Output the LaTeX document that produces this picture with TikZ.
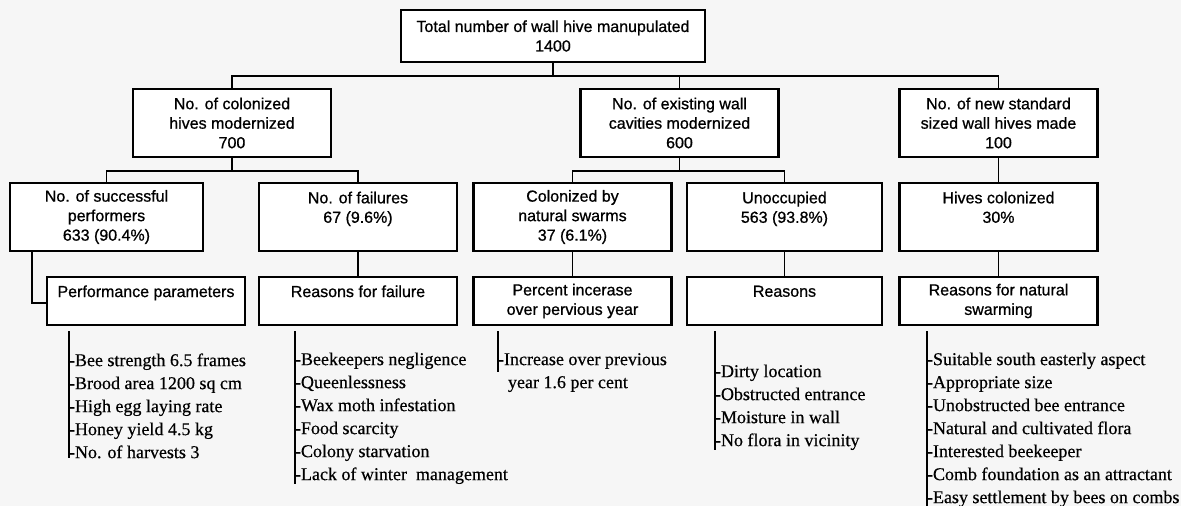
\documentclass[tikz,border=0pt]{standalone}
\usepackage{fontspec}
\setmainfont{Liberation Serif}
\setsansfont{Liberation Sans}
\newfontface\boxfont[FakeBold=0.8]{Liberation Sans}
\newfontface\listfont[FakeBold=0.5]{Liberation Serif}
\usetikzlibrary{positioning}

\begin{document}
\begin{tikzpicture}[
  x=1pt, y=-1pt,
  every node/.style={inner sep=0pt, outer sep=0pt},
  box/.style={
    draw,
    line width=2.6pt,
    fill=white,
    align=center,
    minimum width=198pt,
    minimum height=68pt,
    font=\boxfont\fontsize{16}{19.5}\selectfont
  },
  topbox/.style={box, minimum width=304pt, minimum height=52pt},
  lowbox/.style={box, minimum height=48pt},
  link/.style={line width=1.4pt},
  itemlist/.style={anchor=north west, align=left, font=\listfont\fontsize{18}{23}\selectfont}
]

\useasboundingbox (0,0) rectangle (1181,506);
\fill[gray!7] (0,0) rectangle (1181,506);

\node[topbox] (total) at (553,36) {Total number of wall hive manupulated\\1400};

\node[box] (colon) at (232,123) {No. of colonized\\hives modernized\\700};
\node[box] (exist) at (679.5,123) {No. of existing wall\\cavities modernized\\600};
\node[box] (newhive) at (998.5,123) {No. of new standard\\sized wall hives made\\100};

\node[box, minimum width=193pt] (success) at (106.5,217) {No. of successful\\performers\\633 (90.4\%)};
\node[box] (failure) at (358,217) {No. of failures\\67 (9.6\%)\\\mbox{}};
\node[box] (swarmed) at (572.5,217) {Colonized by\\natural swarms\\37 (6.1\%)};
\node[box, minimum width=195pt] (empty) at (784.5,217) {Unoccupied\\563 (93.8\%)\\\mbox{}};
\node[box] (colonised) at (998.5,217) {Hives colonized\\30\%\\\mbox{}};

\node[lowbox] (perf) at (146,301) {Performance parameters\\\mbox{}};
\node[lowbox] (whyfail) at (358,301) {Reasons for failure\\\mbox{}};
\node[lowbox] (increase) at (572.5,301) {Percent incerase\\over pervious year};
\node[lowbox, minimum width=195pt] (reasons) at (784.5,301) {Reasons\\\mbox{}};
\node[lowbox] (natural) at (998.5,301) {Reasons for natural\\swarming};

\node[itemlist] (perflist) at (69,350) {\strut-Bee strength 6.5 frames\\-Brood area 1200 sq cm\\-High egg laying rate\\-Honey yield 4.5 kg\\-No. of harvests 3};
\node[itemlist] (faillist) at (295,349) {\strut-Beekeepers negligence\\-Queenlessness\\-Wax moth infestation\\-Food scarcity\\-Colony starvation\\-Lack of winter\ \ management};
\node[itemlist] (pctlist) at (498,349) {\strut-Increase over previous};
\node[itemlist] (pctlist2) at (508,372) {\strut year 1.6 per cent};
\node[itemlist] (reasonlist) at (715,361) {\strut-Dirty location\\-Obstructed entrance\\-Moisture in wall\\-No flora in vicinity};
\node[itemlist] (swarmlist) at (927,349) {\strut-Suitable south easterly aspect\\-Appropriate size\\-Unobstructed bee entrance\\-Natural and cultivated flora\\-Interested beekeeper\\-Comb foundation as an attractant\\-Easy settlement by bees on combs};

\coordinate (bus) at (553,76);
\coordinate (busa) at (232,171);
\coordinate (busb) at (679.5,171);
\coordinate (elbow) at (32,303);

\draw[link] (total.south) -- (bus);
\draw[link] (bus) -| (colon.north);
\draw[link] (bus) -| (exist.north);
\draw[link] (bus) -| (newhive.north);

\draw[link] (colon.south) -- (busa);
\draw[link] (busa) -| (success.north);
\draw[link] (busa) -| (failure.north);
\draw[link] (exist.south) -- (busb);
\draw[link] (busb) -| (swarmed.north);
\draw[link] (busb) -| (empty.north);
\draw[link] (newhive) -- (colonised);

\draw[link] (elbow |- success.south) -- (elbow) -- (elbow -| perf.west);
\draw[link] (failure) -- (whyfail);
\draw[link] (swarmed) -- (increase);
\draw[link] (empty) -- (reasons);
\draw[link] (colonised) -- (natural);

\draw[link, shorten <=6pt] (perf.south -| perflist.west) -- (perflist.south west);
\draw[link, shorten <=6pt] (whyfail.south -| faillist.west) -- (faillist.south west);
\draw[link, shorten <=6pt] (increase.south -| pctlist.west) -- (pctlist.south west);
\draw[link, shorten <=6pt] (reasons.south -| reasonlist.west) -- (reasonlist.south west);
\draw[link, shorten <=6pt] (natural.south -| swarmlist.west) -- (swarmlist.south west);

\end{tikzpicture}
\end{document}
